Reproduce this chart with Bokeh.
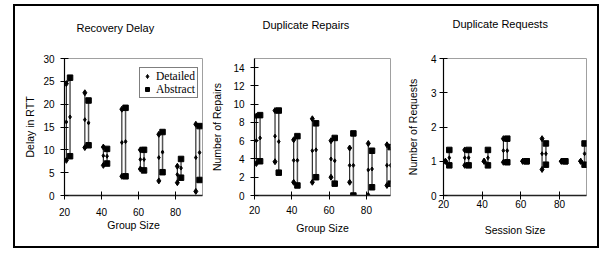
from bokeh.plotting import figure
from bokeh.models import Legend, LegendItem, FixedTicker, Range1d, Title
from bokeh.layouts import row
from bokeh.embed import file_html
from bokeh.resources import INLINE

# ---------------- data ----------------
groups = [20, 30, 40, 50, 60, 70, 80, 90]

# Recovery Delay (RTT)
delay_det_min = [7.7, 10.5, 6.6, 4.2, 5.8, 3.2, 2.8, 0.9]
delay_det_mean = [16.1, 16.6, 8.7, 11.6, 7.9, 8.3, 4.6, 8.3]
delay_det_max = [24.5, 22.5, 10.6, 18.9, 10.0, 13.4, 6.4, 15.6]
delay_abs_min = [8.6, 11.0, 7.0, 4.2, 5.5, 5.1, 3.9, 3.4]
delay_abs_mean = [17.2, 15.9, 8.6, 11.8, 7.9, 9.5, 6.0, 9.4]
delay_abs_max = [25.8, 20.8, 10.2, 19.2, 10.0, 13.9, 8.0, 15.2]

# Duplicate Repairs
rep_det_min = [3.5, 3.7, 1.45, 1.45, 2.0, 1.45, 0.0, 1.1]
rep_det_mean = [6.0, 6.5, 3.85, 4.9, 4.0, 3.3, 2.8, 3.3]
rep_det_max = [8.7, 9.3, 6.1, 8.4, 6.0, 5.2, 5.7, 5.55]
rep_abs_min = [3.75, 2.5, 1.1, 2.0, 1.3, 0.0, 0.9, 1.3]
rep_abs_mean = [6.3, 5.9, 3.85, 5.0, 3.8, 3.3, 2.9, 3.3]
rep_abs_max = [8.8, 9.3, 6.5, 7.9, 6.3, 6.8, 4.9, 5.3]

# Duplicate Requests
req_det_min = [1.0, 0.88, 1.0, 0.97, 1.0, 0.76, 1.0, 1.0]
req_det_mean = [1.0, 1.1, 1.0, 1.31, 1.0, 1.22, 1.0, 1.0]
req_det_max = [1.0, 1.33, 1.0, 1.66, 1.0, 1.66, 1.0, 1.0]
req_abs_min = [0.88, 0.88, 0.88, 0.97, 1.0, 0.9, 1.0, 0.9]
req_abs_mean = [1.1, 1.1, 1.1, 1.31, 1.0, 1.22, 1.0, 1.22]
req_abs_max = [1.33, 1.33, 1.33, 1.66, 1.0, 1.52, 1.0, 1.52]

x_ticks = [20, 40, 60, 80]
delay_ticks = [0, 5, 10, 15, 20, 25, 30]
rep_ticks = [0, 2, 4, 6, 8, 10, 12, 14]
req_ticks = [0, 1, 2, 3, 4]

titles = ["Recovery Delay", "Duplicate Repairs", "Duplicate Requests"]
xlabels = ["Group Size", "Group Size", "Session Size"]
ylabels = ["Delay in RTT", "Number of Repairs", "Number of Requests"]
series_names = ["Detailed", "Abstract"]

SANS = "Liberation Sans"
SERIF = "Liberation Serif"


def make_panel(idx, det, abs_, yr, xr, yticks, fw, fh, bl, br, bt, bb,
               title_offset, title_gap, ylab_standoff, xlab_standoff,
               xtick_standoff, ytick_standoff, legend=False):
    p = figure(frame_width=fw, frame_height=fh, x_range=Range1d(*xr), y_range=Range1d(*yr),
               output_backend="svg", toolbar_location=None,
               min_border_left=bl, min_border_right=br, min_border_top=bt, min_border_bottom=bb,
               background_fill_color="white", border_fill_color="white")
    p.grid.visible = False
    p.outline_line_color = "#a0a0a0"
    p.outline_line_width = 1

    xd = [g + 1 for g in groups]
    xa = [g + 3 for g in groups]
    dmin, dmean, dmax = det
    amin, amean, amax = abs_

    p.segment(x0=xd, y0=dmin, x1=xd, y1=dmax, line_color="#1a1a1a", line_width=1.1)
    p.segment(x0=xa, y0=amin, x1=xa, y1=amax, line_color="#555555", line_width=1.5)
    rd = p.scatter(x=xd + xd, y=dmin + dmax, marker="diamond", size=6, color="black")
    p.scatter(x=xd, y=dmean, marker="diamond", size=4, color="black")
    ra = p.scatter(x=xa + xa, y=amin + amax, marker="square", size=5.5, color="black")
    p.scatter(x=xa, y=amean, marker="diamond", size=4, color="black")

    p.xaxis.ticker = FixedTicker(ticks=x_ticks)
    p.yaxis.ticker = FixedTicker(ticks=yticks)
    for ax in (p.xaxis[0], p.yaxis[0]):
        ax.major_tick_in = 4
        ax.major_tick_out = 4
        ax.minor_tick_line_color = None
        ax.major_label_text_font = SANS
        ax.major_label_text_font_size = "10px"
        ax.major_label_text_color = "black"
        ax.axis_label_text_font = SANS
        ax.axis_label_text_font_size = "10.5px"
        ax.axis_label_text_font_style = "normal"
        ax.axis_label_text_color = "black"
        ax.major_tick_line_color = "black"
    p.xaxis.axis_line_color = "#222222"
    p.xaxis.axis_line_width = 1.5
    p.yaxis.axis_line_color = "black"
    p.yaxis.axis_line_width = 1.2
    p.xaxis.axis_label = xlabels[idx]
    p.yaxis.axis_label = ylabels[idx]
    p.xaxis.axis_label_standoff = xlab_standoff
    p.yaxis.axis_label_standoff = ylab_standoff
    p.xaxis.major_label_standoff = xtick_standoff
    p.yaxis.major_label_standoff = ytick_standoff

    # no built-in title; a blank spacer title (closest to frame), then the real title
    p.title.text = ""
    p.add_layout(Title(text=" ", standoff=title_gap, text_font_size="1px",
                       text_color="white"), "above")
    p.add_layout(Title(text=titles[idx], align="left", offset=title_offset, standoff=0,
                       text_font=SANS, text_font_size="11px", text_font_style="normal",
                       text_color="black"), "above")

    if legend:
        lg = Legend(items=[LegendItem(label=series_names[0], renderers=[rd]),
                           LegendItem(label=series_names[1], renderers=[ra])],
                    location=(75, 97), label_text_font=SERIF, label_text_font_size="11.5px",
                    label_text_color="black", glyph_width=10, glyph_height=12,
                    label_standoff=4, padding=2, spacing=1, margin=0,
                    border_line_color="black", border_line_width=1,
                    background_fill_color="white", background_fill_alpha=1,
                    label_height=12)
        p.add_layout(lg, "center")
    return p


p1 = make_panel(0, (delay_det_min, delay_det_mean, delay_det_max),
                (delay_abs_min, delay_abs_mean, delay_abs_max),
                (0, 30), (20, 94.6), delay_ticks, 138, 137, 49, 3, 52, 51,
                12, 22, 4, 0, 8, 6, legend=True)
p2 = make_panel(1, (rep_det_min, rep_det_mean, rep_det_max),
                (rep_abs_min, rep_abs_mean, rep_abs_max),
                (0, 15), (20, 92.9), rep_ticks, 136, 137, 49, 5, 49, 54,
                8, 25, 7, 5, 6, 6)
p3 = make_panel(2, (req_det_min, req_det_mean, req_det_max),
                (req_abs_min, req_abs_mean, req_abs_max),
                (0, 4), (20, 94.0), req_ticks, 143, 137, 48, 11, 48, 55,
                9, 26, 9, 13, 0, 3)

layout = row(p1, p2, p3, spacing=0, margin=(4, 0, 0, 13),
             styles={"border": "2px solid black"})

open("out.html", "w").write(file_html(layout, INLINE))
